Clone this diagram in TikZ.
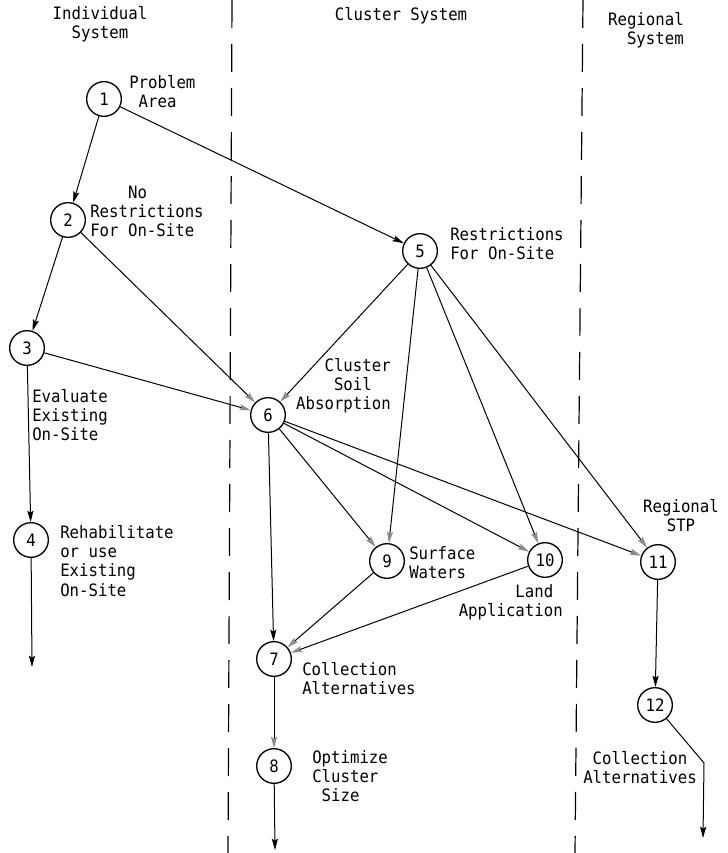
\documentclass[tikz,border=0pt]{standalone}
\usepackage{fontspec}
\setmonofont[FakeStretch=0.92]{DejaVu Sans Mono}
\usetikzlibrary{arrows.meta}
\newcommand{\diagfont}{\ttfamily\fontsize{12.8}{14.3}\selectfont}
\tikzset{
  stage/.style={circle, draw, line width=1pt, minimum size=26pt, inner sep=0pt},
  note/.style={inner sep=0pt, align=left, anchor=west},
  flow/.style={line width=0.75pt, -{Stealth[length=8.5pt,width=4.6pt,inset=1.5pt]}},
  pale/.style={line width=0.75pt, -{Stealth[length=8.5pt,width=4.6pt,inset=1.5pt,color=black!45]}},
  divider/.style={line width=0.9pt, dash pattern=on 21pt off 12pt}
}
\begin{document}
\begin{tikzpicture}[x=0.75pt,y=-0.75pt,font=\diagfont]
	\useasboundingbox (0,0) rectangle (728,853);
	% column dividers
	\draw[divider] (232,0) -- (228,853);
	\draw[divider] (583,0) -- (575,853);

	% headings
	\node[align=center, inner sep=0pt] (hindiv) at (100,24) {Individual\\System};
	\node[inner sep=0pt] (hcluster) at (401,16) {Cluster System};
	\node[align=right, anchor=east, inner sep=0pt] (hregion) at (684,30) {Regional\\System};

	% stages
	\node[stage] (n1) at (104,99) {1};
	\node[stage] (n2) at (68,220) {2};
	\node[stage] (n3) at (27,348) {3};
	\node[stage] (n4) at (31,540) {4};
	\node[stage] (n5) at (420,251) {5};
	\node[stage] (n6) at (268,415) {6};
	\node[stage] (n7) at (274,659) {7};
	\node[stage] (n8) at (274,766) {8};
	\node[stage] (n9) at (387,561) {9};
	\node[stage] (n10) at (545,560) {10};
	\node[stage] (n11) at (658,562) {11};
	\node[stage] (n12) at (655,705) {12};

	% labels
	\node[note] (l1) at (129,92) {Problem\\\hphantom{x}Area};
	\node[note] (l2) at (90,211) {\hphantom{xxxx}No\\Restrictions\\For On-Site};
	\node[note] (l3) at (32,415) {Evaluate\\Existing\\On-Site};
	\node[note] (l4) at (60,561) {Rehabilitate\\or use\\Existing\\On-Site};
	\node[note] (l5) at (450,244) {Restrictions\\For On-Site};
	\node[note, align=right, anchor=east] (l6) at (391,386) {Cluster\\Soil\hphantom{xx}\\Absorption};
	\node[note] (l7) at (302,679) {Collection\\Alternatives};
	\node[note] (l8) at (312,776) {Optimize\\Cluster\\\hphantom{x}Size};
	\node[note] (l9) at (409,563) {Surface\\Waters};
	\node[note, align=right, anchor=east] (l10) at (563,602) {Land\hphantom{x}\\Application};
	\node[align=center, inner sep=0pt] (l11) at (681,516) {Regional\\STP};
	\node[align=center, inner sep=0pt] (l12) at (640,768) {Collection\\Alternatives};

	% free ends
	\coordinate (e4) at (32,667);
	\coordinate (e8) at (275,850);
	\coordinate (b12) at (704,763);
	\coordinate (e12) at (703,838);

	% connectors
	\draw[flow] (n1) -- (n2);
	\draw[flow] (n1) -- (n5);
	\draw[flow] (n2) -- (n3);
	\draw[pale] (n2) -- (n6);
	\draw[pale] (n3) -- (n6);
	\draw[flow] (n3) -- (n4);
	\draw[flow] (n4) -- (e4);
	\draw[pale] (n5) -- (n6);
	\draw[pale] (n5) -- (n9);
	\draw[pale] (n5) -- (n10);
	\draw[pale] (n5) -- (n11);
	\draw[pale] (n6) -- (n9);
	\draw[pale] (n6) -- (n10);
	\draw[pale] (n6) -- (n11);
	\draw[flow] (n6) -- (n7);
	\draw[pale] (n9) -- (n7);
	\draw[pale] (n10) -- (n7);
	\draw[pale] (n7) -- (n8);
	\draw[flow] (n8) -- (e8);
	\draw[flow] (n11) -- (n12);
	\draw[flow] (n12) -- (b12) -- (e12);
\end{tikzpicture}
\end{document}
